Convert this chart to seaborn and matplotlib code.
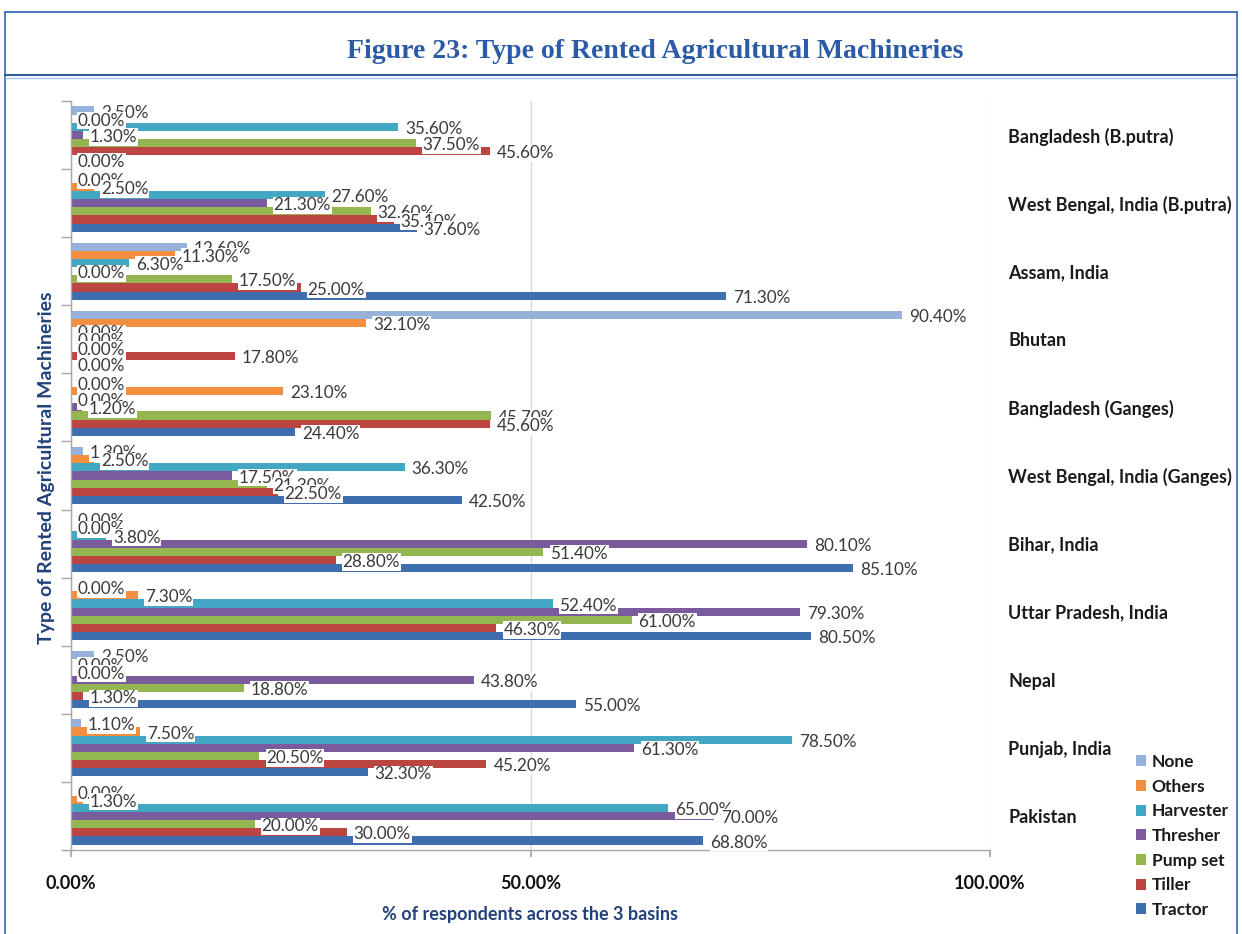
import numpy as np
import pandas as pd
import matplotlib
matplotlib.use("Agg")
import matplotlib.pyplot as plt
from matplotlib.lines import Line2D
import seaborn as sns

# Regions (top to bottom) and machinery types (top bar to bottom bar within a group)
regions = [
    "Bangladesh (B.putra)",
    "West Bengal, India (B.putra)",
    "Assam, India",
    "Bhutan",
    "Bangladesh (Ganges)",
    "West Bengal, India (Ganges)",
    "Bihar, India",
    "Uttar Pradesh, India",
    "Nepal",
    "Punjab, India",
    "Pakistan",
]
machines = ["None", "Others", "Harvester", "Thresher", "Pump set", "Tiller", "Tractor"]

# % of respondents renting each machine type, one list per machine (region order as above)
none_vals      = [2.5, 0.0, 12.6, 90.4, 0.0, 1.3, 0.0, 0.0, 2.5, 1.1, 0.0]
others_vals    = [0.0, 2.5, 11.3, 32.1, 23.1, 2.5, 0.0, 7.3, 0.0, 7.5, 1.3]
harvester_vals = [35.6, 27.6, 6.3, 0.0, 0.0, 36.3, 3.8, 52.4, 0.0, 78.5, 65.0]
thresher_vals  = [1.3, 21.3, 0.0, 0.0, 1.2, 17.5, 80.1, 79.3, 43.8, 61.3, 70.0]
pumpset_vals   = [37.5, 32.6, 17.5, 0.0, 45.7, 21.3, 51.4, 61.0, 18.8, 20.5, 20.0]
tiller_vals    = [45.6, 35.1, 25.0, 17.8, 45.6, 22.5, 28.8, 46.3, 1.3, 45.2, 30.0]
tractor_vals   = [0.0, 37.6, 71.3, 0.0, 24.4, 42.5, 85.1, 80.5, 55.0, 32.3, 68.8]

series = {
    "None": none_vals,
    "Others": others_vals,
    "Harvester": harvester_vals,
    "Thresher": thresher_vals,
    "Pump set": pumpset_vals,
    "Tiller": tiller_vals,
    "Tractor": tractor_vals,
}

colors = {
    "None": "#97B2DA",
    "Others": "#F28E3E",
    "Harvester": "#42A7C2",
    "Thresher": "#7A5C9E",
    "Pump set": "#93B651",
    "Tiller": "#BC4542",
    "Tractor": "#3E6EAE",
}

xticks = [0, 50, 100]
xtick_labels = ["0.00%", "50.00%", "100.00%"]

rows = []
for m in machines:
    for r, v in zip(regions, series[m]):
        rows.append({"region": r, "machine": m, "value": v})
df = pd.DataFrame(rows)

sns.set_theme(style="white")
plt.rcParams["font.family"] = ["Lato", "DejaVu Sans"]

W, H = 1242, 934
fig = plt.figure(figsize=(W / 100, H / 100), dpi=100)
fig.patch.set_facecolor("white")

ax_left, ax_right, ax_top, ax_bottom = 71, 990, 101, 850
ax = fig.add_axes([ax_left / W, 1 - ax_bottom / H,
                   (ax_right - ax_left) / W, (ax_bottom - ax_top) / H])

sns.barplot(data=df, y="region", x="value", hue="machine",
            order=regions, hue_order=machines, palette=colors,
            orient="h", width=0.84, dodge=True, errorbar=None,
            saturation=1, linewidth=0, ax=ax)

ax.set_xlim(0, 100)
ax.set_ylim(len(regions) - 0.5, -0.5)

# value labels at the end of each bar
for cont, m in zip(ax.containers, machines):
    for bar, v in zip(cont, series[m]):
        y = bar.get_y() + bar.get_height() / 2
        ax.annotate(f"{v:.2f}%", xy=(v, y), xytext=(5, -1.5),
                    textcoords="offset points", ha="left", va="center",
                    fontsize=12.3, color="#3A3A3A",
                    bbox=dict(boxstyle="square,pad=0.04", fc="white", ec="none"),
                    zorder=5)

# grid and axes styling
ax.set_xticks(xticks)
ax.set_xticklabels(xtick_labels, fontsize=13, fontweight="bold", color="#111111")
ax.xaxis.grid(True, color="#D9D9D9", linewidth=1)
ax.yaxis.grid(False)
ax.set_axisbelow(True)
ax.tick_params(axis="x", which="major", bottom=True, length=5, color="#A6A6A6",
               pad=13, direction="out")

ax.set_yticks(range(len(regions)))
ax.set_yticklabels(regions, fontsize=13, fontweight="bold", color="#1A1A1A")
ax.tick_params(axis="y", which="major", left=False, right=False,
               labelleft=False, labelright=True, pad=7)
ax.set_yticks(np.arange(-0.5, len(regions), 1), minor=True)
ax.tick_params(axis="y", which="minor", left=True, length=7, width=1,
               color="#A6A6A6", direction="out")
for lab in ax.get_yticklabels():
    lab.set_ha("left")

for side in ["top", "right"]:
    ax.spines[side].set_visible(False)
for side in ["left", "bottom"]:
    ax.spines[side].set_color("#A6A6A6")
    ax.spines[side].set_linewidth(1)

ax.set_xlabel("% of respondents across the 3 basins", fontsize=13,
              fontweight="bold", color="#22407A", labelpad=10)
ax.set_ylabel("")
fig.text(47 / W, 1 - 468 / H, "Type of Rented Agricultural Machineries",
         rotation=90, ha="center", va="center", fontsize=14,
         fontweight="bold", color="#22407A")

# legend
leg = ax.get_legend()
if leg is not None:
    leg.remove()
handles = [plt.Rectangle((0, 0), 1, 1, fc=colors[m], ec="none") for m in machines]
fig.legend(handles, machines, loc="upper left",
           bbox_to_anchor=(1136 / W, 1 - 754 / H), frameon=False,
           prop={"family": ["Lato", "DejaVu Sans"], "weight": "bold", "size": 12.5},
           labelcolor="#1A1A1A", handlelength=0.6, handleheight=0.6,
           handletextpad=0.3, labelspacing=0.5, borderaxespad=0, borderpad=0)

# title band and frame
fig.text(655 / W, 1 - 51 / H, "Figure 23: Type of Rented Agricultural Machineries",
         ha="center", va="center", fontsize=20, fontweight="bold",
         family=["Liberation Serif", "DejaVu Serif"], color="#2B5BA6")

frame_col = "#3E6DB5"
fig.add_artist(Line2D([5 / W, 5 / W], [0, 1 - 12 / H], color=frame_col, lw=1.3))
fig.add_artist(Line2D([1237 / W, 1237 / W], [0, 1 - 12 / H], color=frame_col, lw=1.3))
fig.add_artist(Line2D([5 / W, 1237 / W], [1 - 12 / H, 1 - 12 / H], color=frame_col, lw=1.3))
fig.add_artist(Line2D([5 / W, 1237 / W], [1 - 75 / H, 1 - 75 / H], color="#2F5C9E", lw=1.5))
fig.add_artist(Line2D([5 / W, 1237 / W], [1 - 77.5 / H, 1 - 77.5 / H], color="#A9C4E8", lw=1))

fig.savefig("out.png", dpi=100, facecolor="white")
